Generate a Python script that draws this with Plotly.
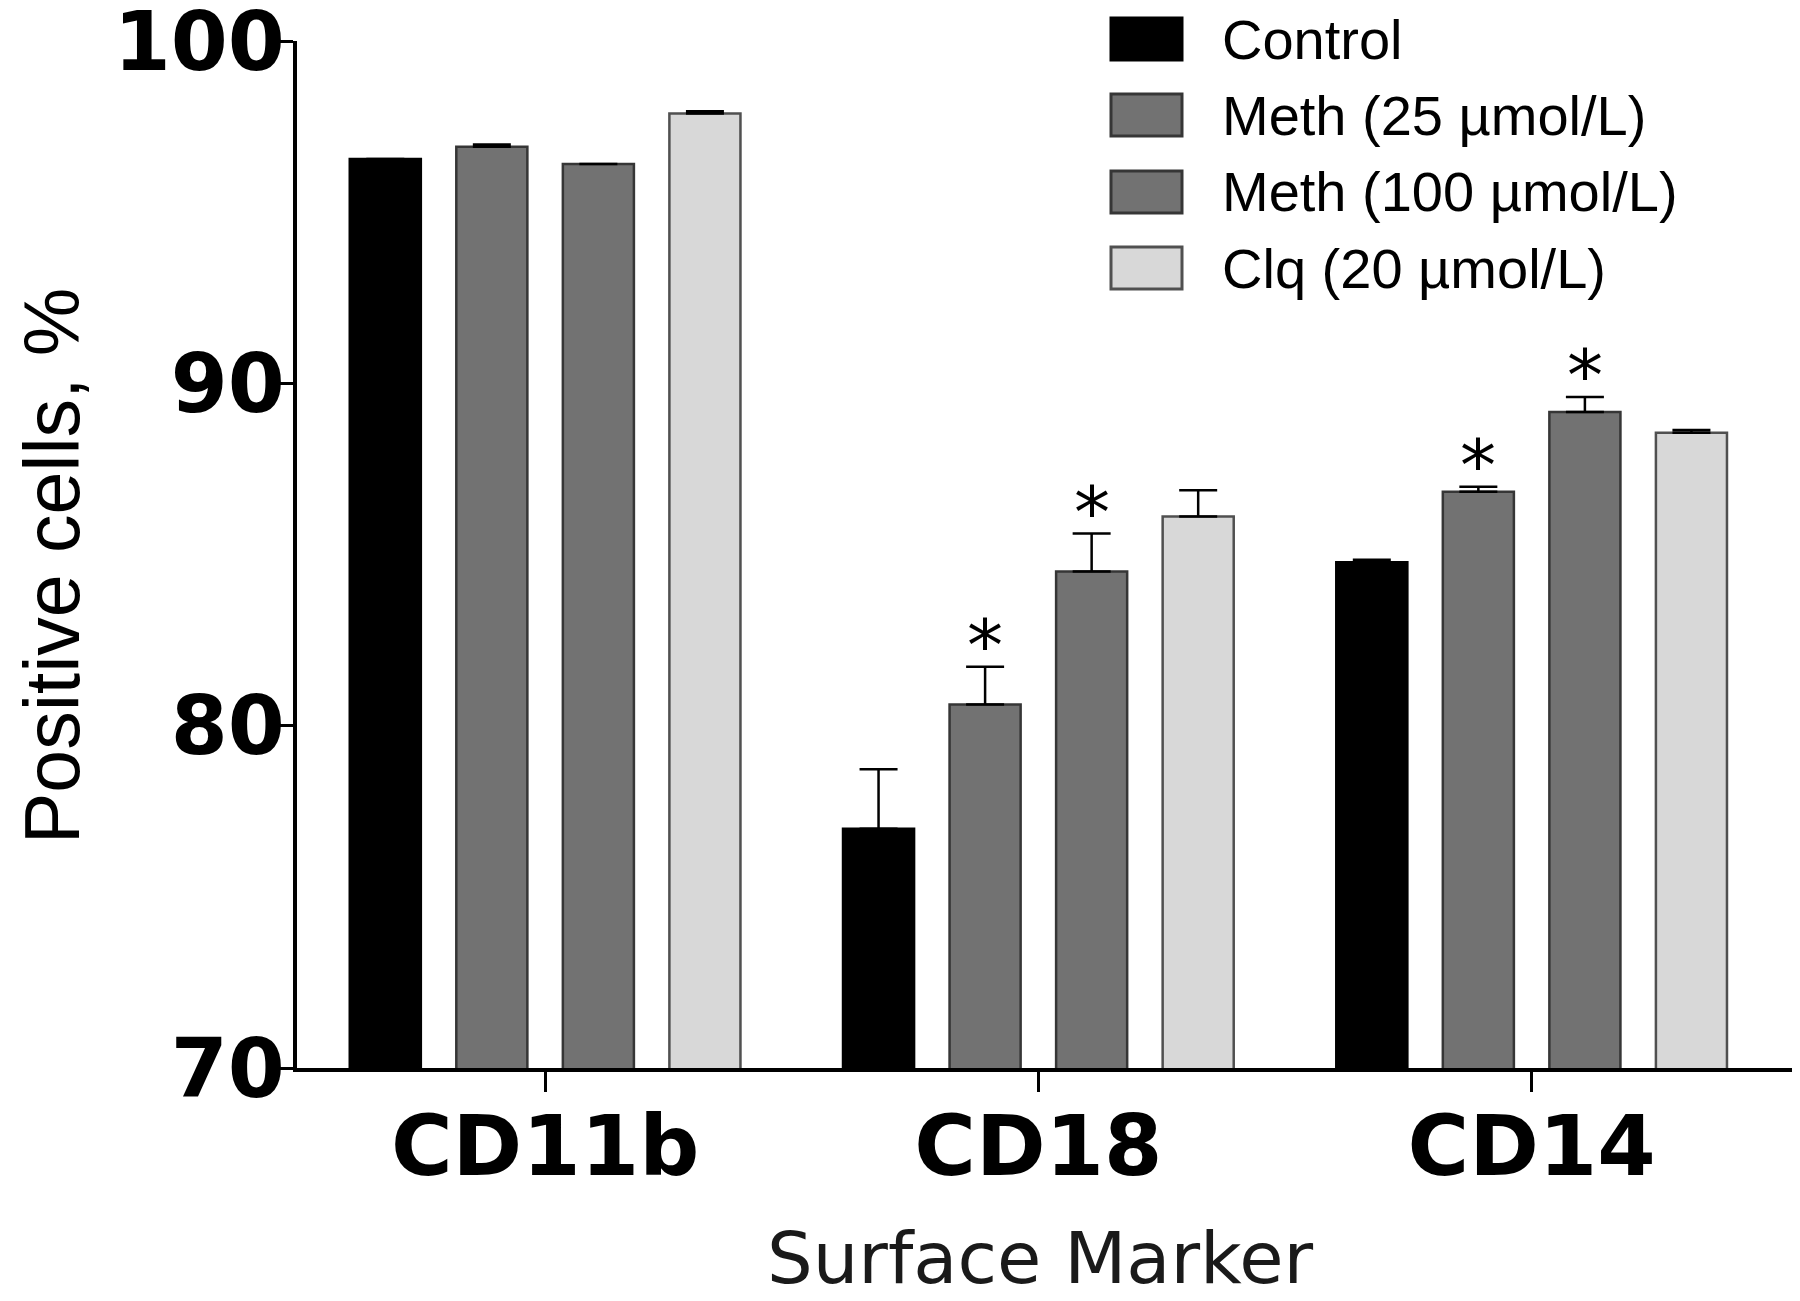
import plotly.graph_objects as go

# ---------------- data ----------------
markers = ["CD11b", "CD18", "CD14"]
group_names = ["Control", "Meth (25 µmol/L)", "Meth (100 µmol/L)", "Clq (20 µmol/L)"]

control = [96.55, 76.99, 84.77]
meth25 = [96.91, 80.62, 86.83]
meth100 = [96.41, 84.50, 89.16]
clq = [97.88, 86.11, 88.56]

control_err = [0.0, 1.74, 0.08]
meth25_err = [0.07, 1.10, 0.15]
meth100_err = [0.0, 1.11, 0.44]
clq_err = [0.07, 0.77, 0.08]

control_sig = [False, False, False]
meth25_sig = [False, True, True]
meth100_sig = [False, True, True]
clq_sig = [False, False, False]

y_ticks = [70, 80, 90, 100]

# ---------------- styles ----------------
values = [control, meth25, meth100, clq]
errors = [control_err, meth25_err, meth100_err, clq_err]
sigs = [control_sig, meth25_sig, meth100_sig, clq_sig]
fills = ["#000000", "#727272", "#727272", "#d8d8d8"]
outlines = ["#000000", "#363636", "#363636", "#505050"]

OFF = 8  # default page body margin
W, H = 1800 - OFF, 1301 - OFF
L, R, T, B = 297 - OFF, 3, 41 - OFF, 233
BARGAP = 0.136
N = len(values)

fig = go.Figure()
for i in range(N):
    fig.add_trace(go.Bar(
        x=markers, y=values[i], name=group_names[i],
        marker=dict(color=fills[i], line=dict(color=outlines[i], width=2.5)),
        error_y=dict(type="data", symmetric=False, array=errors[i],
                     arrayminus=[0] * len(errors[i]),
                     color="#000000", thickness=2.5, width=19),
        showlegend=False,
    ))

# significance stars
slot = (1 - BARGAP) / N
annotations = []
for i in range(N):
    for g in range(len(markers)):
        if sigs[i][g]:
            xpos = g - (1 - BARGAP) / 2 + slot * (i + 0.5)
            annotations.append(dict(
                x=xpos, y=values[i][g] + errors[i][g], xref="x", yref="y",
                text="*", showarrow=False, yanchor="bottom", xanchor="center",
                yshift=-22,
                font=dict(family="DejaVu Sans", size=72, color="#000000")))

# custom legend (page pixel positions converted to paper coords)
pw, ph = W - L - R, H - T - B
def px(x):
    return (x - OFF - L) / pw
def py(y):
    return (H - B - (y - OFF)) / ph

shapes = []
row_centers = [39, 115, 192, 268]
for i, name in enumerate(group_names):
    yc = row_centers[i]
    shapes.append(dict(type="rect", xref="paper", yref="paper",
                       x0=px(1111), x1=px(1182), y0=py(yc + 21), y1=py(yc - 21),
                       fillcolor=fills[i], line=dict(color=outlines[i], width=3)))
    annotations.append(dict(x=px(1220), y=py(yc), xref="paper", yref="paper",
                            text=name, showarrow=False, xanchor="left", yanchor="middle",
                            font=dict(family="Liberation Sans", size=56, color="#000000")))

# axis titles
annotations.append(dict(x=px(52), y=py(566), xref="paper", yref="paper",
                        text="Positive cells, %", textangle=-90, showarrow=False,
                        xanchor="center", yanchor="middle",
                        font=dict(family="Liberation Sans", size=77, color="#000000")))
annotations.append(dict(x=px(1040), y=py(1258), xref="paper", yref="paper",
                        text="Surface Marker", showarrow=False,
                        xanchor="center", yanchor="middle",
                        font=dict(family="DejaVu Sans", size=72, color="#1a1a1a")))

fig.update_layout(
    width=W, height=H,
    margin=dict(l=L, r=R, t=T, b=B, pad=0, autoexpand=False),
    paper_bgcolor="#ffffff", plot_bgcolor="#ffffff",
    barmode="group", bargap=BARGAP, bargroupgap=0.333,
    shapes=shapes, annotations=annotations,
    xaxis=dict(range=[-0.503, 2.538], showline=True, linecolor="#000000", linewidth=3.5,
               ticks="outside", ticklen=20, tickwidth=3, tickcolor="#000000",
               ticklabelstandoff=-18, automargin=False,
               tickfont=dict(family="DejaVu Sans", size=84, color="#000000", weight="bold"),
               showgrid=False, zeroline=False, fixedrange=True),
    yaxis=dict(range=[70, 100], tickvals=y_ticks, showline=True, linecolor="#000000",
               linewidth=3.5, ticks="outside", ticklen=20, tickwidth=3, tickcolor="#000000",
               ticklabelstandoff=-28, ticklabeloverflow="allow", automargin=False,
               tickfont=dict(family="DejaVu Sans", size=82, color="#000000", weight="bold"),
               showgrid=False, zeroline=False, fixedrange=True),
)

fig.write_html("out.html")
